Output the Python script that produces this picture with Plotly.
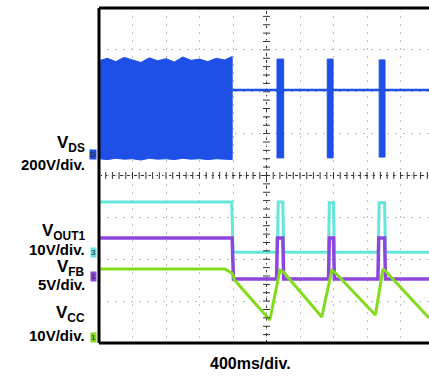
import numpy as np
import plotly.graph_objects as go

# 示波器截图：时间单位 ms（400ms/div），纵轴单位为屏幕格（-4 ~ 4 div）
MS_PER_DIV = 400
X_MAX = 3940  # 窗口右侧截断处

# V_DS 开关阶段的包络（上沿 / 下沿）
vds_main_t = [0, 100, 200, 300, 400, 500, 600, 700, 800, 900, 1000, 1100, 1200, 1300, 1400, 1500, 1590]
vds_main_top = [2.74, 2.80, 2.72, 2.82, 2.76, 2.70, 2.81, 2.74, 2.79, 2.71, 2.83, 2.75, 2.78, 2.72, 2.80, 2.76, 2.84]
vds_main_bot = [0.40, 0.38, 0.41, 0.39, 0.40, 0.37, 0.41, 0.39, 0.40, 0.38, 0.41, 0.39, 0.40, 0.38, 0.40, 0.39, 0.38]
vds_base = 2.04
# 打嗝阶段的短脉冲串
burst_start = [2125, 2725, 3345]
burst_end = [2205, 2795, 3415]
burst_top = [2.78, 2.78, 2.76]
burst_bot = [0.42, 0.42, 0.44]

# V_OUT1
vout_t = [0, 1585, 1600, 2130, 2140, 2195, 2205, 2740, 2750, 2800, 2810, 3335, 3345, 3410, 3420, X_MAX]
vout_v = [-0.63, -0.63, -1.83, -1.83, -0.63, -0.63, -1.83, -1.83, -0.65, -0.65, -1.83, -1.83, -0.65, -0.65, -1.83, -1.83]

# V_FB
vfb_t = [0, 1590, 1605, 2120, 2130, 2195, 2205, 2740, 2750, 2800, 2810, 3330, 3340, 3410, 3420, X_MAX]
vfb_v = [-1.49, -1.49, -2.47, -2.47, -1.49, -1.49, -2.47, -2.47, -1.49, -1.49, -2.47, -2.47, -1.49, -1.49, -2.47, -2.47]

# V_CC 锯齿
vcc_t = [0, 1500, 1590, 1620, 2040, 2160, 2200, 2660, 2780, 2810, 3300, 3390, 3420, X_MAX]
vcc_v = [-2.23, -2.23, -2.33, -2.50, -3.45, -2.26, -2.30, -3.38, -2.26, -2.30, -3.33, -2.23, -2.28, -3.40]

BLUE = '#1e50e8'
CYAN = '#64e6dc'
PURPLE = '#8c46dc'
GREEN = '#82dc1e'
FONT = 'Liberation Sans, Arial, sans-serif'

fig = go.Figure()

# V_DS
fig.add_trace(go.Scatter(x=vds_main_t + vds_main_t[::-1], y=vds_main_top + vds_main_bot[::-1],
                         fill='toself', fillcolor=BLUE, mode='lines', line=dict(color=BLUE, width=1)))
fig.add_trace(go.Scatter(x=[vds_main_t[-1], X_MAX], y=[vds_base, vds_base], mode='lines',
                         line=dict(color=BLUE, width=2.5)))
for s, e, tp, bt in zip(burst_start, burst_end, burst_top, burst_bot):
    fig.add_trace(go.Scatter(x=[s, s, e, e, s], y=[bt, tp, tp, bt, bt], fill='toself',
                             fillcolor=BLUE, mode='lines', line=dict(color=BLUE, width=1)))

fig.add_trace(go.Scatter(x=vout_t, y=vout_v, mode='lines', line=dict(color=CYAN, width=3)))
fig.add_trace(go.Scatter(x=vfb_t, y=vfb_v, mode='lines', line=dict(color=PURPLE, width=3.5)))
fig.add_trace(go.Scatter(x=vcc_t, y=vcc_v, mode='lines', line=dict(color=GREEN, width=3)))

# 中心十字线上的小刻度
minor_x = np.arange(0, X_MAX, MS_PER_DIV / 5)
minor_y = np.arange(-4, 4.01, 0.2)
fig.add_trace(go.Scatter(x=minor_x, y=np.zeros_like(minor_x), mode='markers',
                         marker=dict(symbol='line-ns-open', size=5, color='#333', line=dict(width=1))))
fig.add_trace(go.Scatter(x=np.full_like(minor_y, 5 * MS_PER_DIV), y=minor_y, mode='markers',
                         marker=dict(symbol='line-ew-open', size=5, color='#333', line=dict(width=1))))
fig.add_shape(type='line', x0=0, x1=X_MAX, y0=0, y1=0, line=dict(color='#333', width=1, dash='3px,4px'), layer='below')
fig.add_shape(type='line', x0=2000, x1=2000, y0=-4, y1=4, line=dict(color='#333', width=1, dash='3px,4px'), layer='below')

# 边框（左、上、下）
for x0, y0, x1, y1 in [(0, 0, 0, 1), (0, 1, 1.02, 1), (0, 0, 1.02, 0)]:
    fig.add_shape(type='line', xref='paper', yref='paper', x0=x0, y0=y0, x1=x1, y1=y1,
                  line=dict(color='black', width=3))

# 左侧通道标注
labels = [
    ('V<sub>DS</sub>', 0.76, 17), ('200V/div.', 0.27, 15),
    ('V<sub>OUT1</sub>', -1.36, 17), ('10V/div.', -1.77, 15),
    ('V<sub>FB</sub>', -2.20, 17), ('5V/div.', -2.60, 15),
    ('V<sub>CC</sub>', -3.30, 17), ('10V/div.', -3.83, 15),
]
for txt, yv, size in labels:
    fig.add_annotation(text=txt, xref='paper', x=-0.036, xanchor='right', y=yv, yanchor='middle',
                       showarrow=False, font=dict(family=FONT, size=size, color='black', weight='bold'))

# 通道零点标记
for ch, yv, col in [('D', 0.49, BLUE), ('3', -1.83, CYAN), ('1', -2.42, PURPLE), ('1', -3.86, GREEN)]:
    fig.add_annotation(text=ch, xref='paper', x=-0.018, xanchor='center', y=yv, yanchor='middle',
                       showarrow=False, bgcolor=col, borderpad=0,
                       font=dict(family=FONT, size=8, color='#222'))

fig.add_annotation(text='400ms/div.', xref='paper', yref='paper', x=0.458, y=-0.06,
                   xanchor='center', yanchor='middle', showarrow=False,
                   font=dict(family=FONT, size=16, color='black', weight='bold'))

fig.update_xaxes(range=[0, X_MAX], dtick=MS_PER_DIV, tick0=0, showticklabels=False, ticks='',
                 showgrid=True, gridcolor='#bdbdbd', griddash='2px,6px', gridwidth=1, zeroline=False,
                 showline=False)
fig.update_yaxes(range=[-4, 4], dtick=1, tick0=0, showticklabels=False, ticks='',
                 showgrid=True, gridcolor='#bdbdbd', griddash='2px,6px', gridwidth=1, zeroline=False,
                 showline=False)
fig.update_layout(width=429, height=377, margin=dict(l=99, r=0, t=8, b=34),
                  plot_bgcolor='white', paper_bgcolor='white', showlegend=False)

# 去掉页面默认的 body 边距，使图正好占满窗口
fig.write_html("out.html", config={'displayModeBar': False},
               post_script="document.body.style.margin='0';")
